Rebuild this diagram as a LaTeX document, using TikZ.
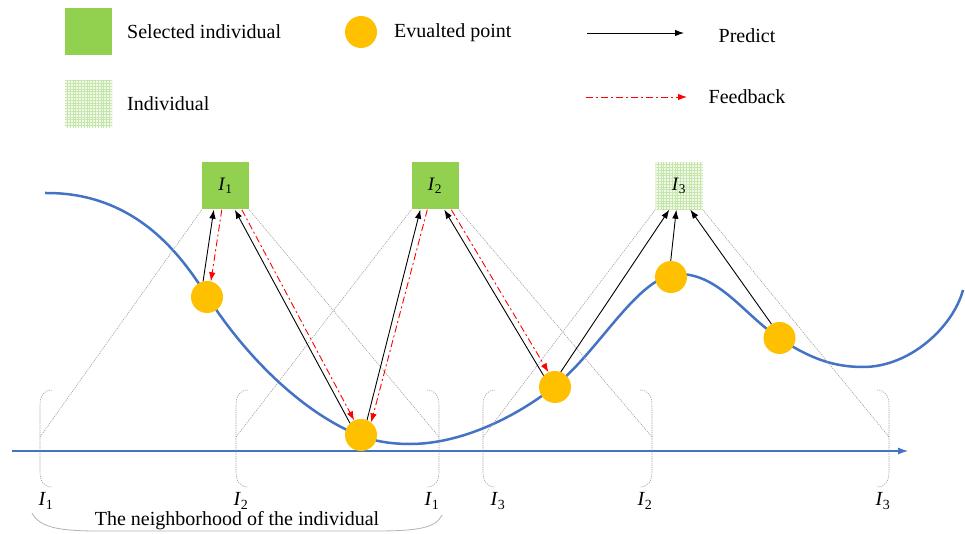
\documentclass[tikz,border=0pt]{standalone}
\usepackage{fontspec}
\setmainfont{Liberation Serif}
\usetikzlibrary{arrows.meta,calc,patterns.meta}
\definecolor{selgreen}{RGB}{146,208,80}
\definecolor{dotorange}{RGB}{255,192,0}
\definecolor{curveblue}{RGB}{68,114,196}
\definecolor{indfill}{RGB}{242,249,236}
\definecolor{indline}{RGB}{196,230,168}
\newcommand\Ilab[1]{\textit{I}\textsubscript{#1}}
\begin{document}
\begin{tikzpicture}[x=1pt,y=-1pt,
  txt/.style={font=\fontsize{20}{24}\selectfont, inner sep=0pt},
  lab/.style={font=\fontsize{20}{24}\selectfont, inner sep=0pt},
  selbox/.style={fill=selgreen, minimum size=47pt, inner sep=0pt, font=\fontsize{19}{22}\selectfont},
  indbox/.style={minimum size=47pt, inner sep=0pt, font=\fontsize{19}{22}\selectfont,
    preaction={fill=indfill},
    preaction={pattern={Lines[angle=0,distance=2.8pt,line width=0.4pt]}, pattern color=indline},
    pattern={Lines[angle=90,distance=2.8pt,line width=0.4pt]}, pattern color=indline},
  evpt/.style={circle, fill=dotorange, minimum size=32pt, inner sep=0pt},
  pred/.style={-{Latex[length=9pt,width=6.5pt]}, line width=0.9pt, black},
  feed/.style={-{Latex[length=9pt,width=6.5pt]}, line width=0.9pt, red, dash pattern=on 7pt off 3pt on 2pt off 3pt},
  nbh/.style={gray!80, line width=0.55pt, dash pattern=on 1.2pt off 1pt},
  curve/.style={curveblue, line width=2.5pt},
  axisline/.style={curveblue, line width=1.1pt, -{Latex[length=10pt,width=7pt]}}
]
\useasboundingbox (0,0) rectangle (965,534);

% ---------- legend ----------
\node[selbox] (lsel) at (88.5,32) {};
\node[txt, anchor=west] (tsel) at (127,32) {Selected individual};
\node[indbox] (lind) at (88.5,104) {};
\node[txt, anchor=west] (tind) at (127,104) {Individual};
\node[evpt] (lev) at (361,32) {};
\node[txt, anchor=west] (tev) at (394,33) {Evualted point};
\coordinate (lp0) at (587,33);
\coordinate (lp1) at (684,33);
\draw[pred] (lp0) -- (lp1);
\node[txt] (tpred) at (747,36) {Predict};
\coordinate (lf0) at (586,97);
\coordinate (lf1) at (687,97);
\draw[feed] (lf0) -- (lf1);
\node[txt] (tfeed) at (747,97) {Feedback};

% ---------- axis ----------
\coordinate (ax0) at (12,451);
\coordinate (ax1) at (908,451);
\draw[axisline] (ax0) -- (ax1);

% ---------- neighbourhood brackets ----------
\foreach \X in {40,236,483}{
  \draw[nbh] (\X+12,390) .. controls (\X+4,390) and (\X,396) .. (\X,405) -- (\X,472) .. controls (\X,481) and (\X+4,487) .. (\X+12,487);
}
\foreach \X in {439,652,889}{
  \draw[nbh] (\X-12,390) .. controls (\X-4,390) and (\X,396) .. (\X,405) -- (\X,472) .. controls (\X,481) and (\X-4,487) .. (\X-12,487);
}
\coordinate (n1l) at (40,437);
\coordinate (n1r) at (439,437);
\coordinate (n2l) at (236,437);
\coordinate (n2r) at (652,437);
\coordinate (n3l) at (483,437);
\coordinate (n3r) at (889,437);

% ---------- curve ----------
\draw[curve] (45,193) .. controls (140,192) and (185,262) .. (207,296)
  .. controls (252,366) and (311,417) .. (361,436)
  .. controls (377,442) and (394,444) .. (410,444)
  .. controls (460,444) and (515,418) .. (555,386)
  .. controls (600,350) and (639,274) .. (679,274)
  .. controls (719,274) and (744,314.5) .. (779,338)
  .. controls (809,358) and (833,367) .. (863,367)
  .. controls (910,367) and (953,327) .. (963,290);

% ---------- individuals ----------
\node[selbox] (b1) at (225.5,186) {\Ilab{1}};
\node[selbox] (b2) at (435,186) {\Ilab{2}};
\node[indbox] (b3) at (679,186) {\Ilab{3}};

\draw[nbh] (b1.south west) -- (n1l);
\draw[nbh] (b1.south east) -- (n1r);
\draw[nbh] (b2.south west) -- (n2l);
\draw[nbh] (b2.south east) -- (n2r);
\draw[nbh] (b3.south west) -- (n3l);
\draw[nbh] (b3.south east) -- (n3r);

% ---------- evaluated points ----------
\node[evpt] (c1) at (207,297) {};
\node[evpt] (c2) at (361,435) {};
\node[evpt] (c3) at (555,387) {};
\node[evpt] (c4) at (671,277) {};
\node[evpt] (c5) at (779.5,338) {};

% ---------- predict / feedback ----------
\draw[pred] (c1.104) -- ($(b1.south west)+(12,0)$);
\draw[feed] ($(b1.south west)+(20,0)$) -- (c1.76);
\draw[pred] (c2.133) -- ($(b1.south west)+(33,0)$);
\draw[feed] ($(b1.south west)+(40,0)$) -- (c2.115);
\draw[pred] (c2.68) -- ($(b2.south west)+(9,0)$);
\draw[feed] ($(b2.south west)+(16,0)$) -- (c2.51);
\draw[pred] (c3.135) -- ($(b2.south west)+(33,0)$);
\draw[feed] ($(b2.south west)+(40,0)$) -- (c3.114);
\draw[pred] (c3.69) -- ($(b3.south west)+(14,0)$);
\draw[pred] (c4.91) -- ($(b3.south west)+(21,0)$);
\draw[pred] (c5.120) -- ($(b3.south west)+(35,0)$);

% ---------- axis labels ----------
\node[lab] (a1) at (46,501) {\Ilab{1}};
\node[lab] (a2) at (241,501) {\Ilab{2}};
\node[lab] (a3) at (432,501) {\Ilab{1}};
\node[lab] (a4) at (498,501) {\Ilab{3}};
\node[lab] (a5) at (645,501) {\Ilab{2}};
\node[lab] (a6) at (883,501) {\Ilab{3}};

% ---------- neighbourhood brace ----------
\draw[gray!60, line width=0.8pt] (32,513) .. controls (40,528) and (60,531) .. (100,531) -- (375,531) .. controls (418,531) and (436,528) .. (442,515);
\node[txt] (tneigh) at (237,521) {The neighborhood of the individual};
\end{tikzpicture}
\end{document}
